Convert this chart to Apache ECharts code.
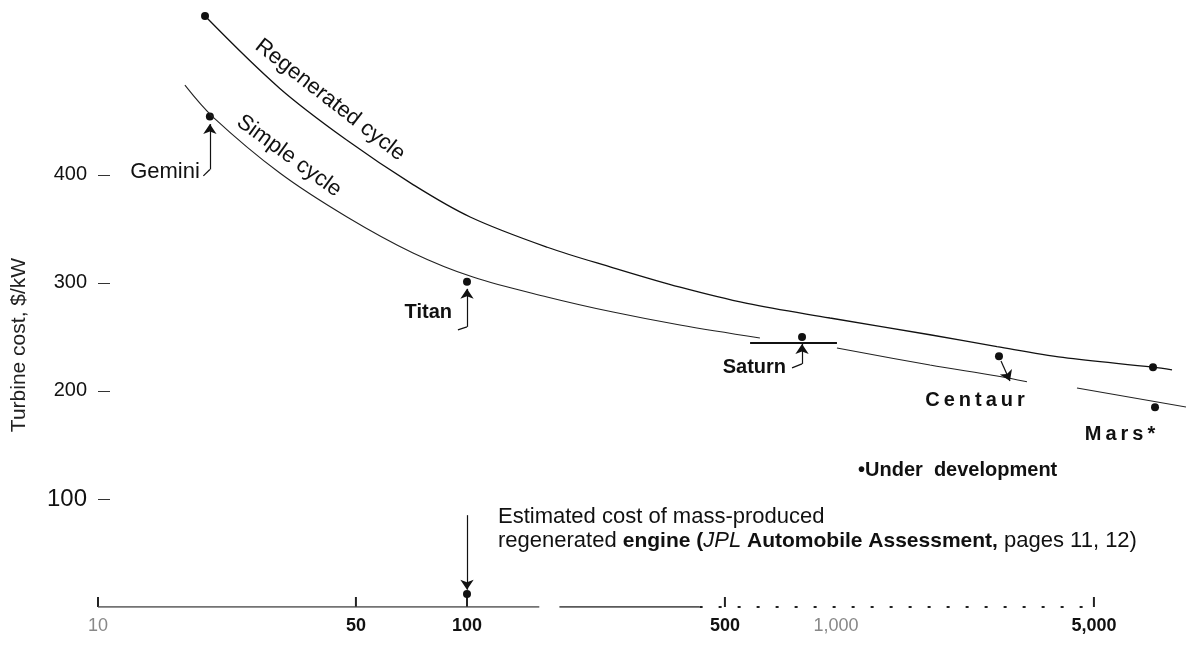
<!DOCTYPE html>
<html><head><meta charset="utf-8">
<script src="https://cdn.jsdelivr.net/npm/echarts@6/dist/echarts.min.js"></script>
<style>html,body{margin:0;padding:0;background:#fff}#c{width:1186px;height:645px}</style>
</head><body><div id="c"></div>
<script>
// ---- data ----
const regenKW   = [19.5, 31.1, 47.3, 71.4, 102, 165, 249, 378, 574, 963, 1797, 2731, 4123, 7230, 8140];
const regenCost = [547, 480, 432, 391, 361, 333, 314, 296, 281, 267.5, 252, 241, 231, 222, 219.5];

const simpleKW_a   = [17.2, 20.5, 31.1, 47.3, 71.4, 103.8, 164.8, 248.7, 377.7, 622];
const simpleCost_a = [483, 453.5, 401.7, 361, 327.7, 305.4, 287, 273, 261, 249];
const simpleKW_b   = [1006, 1797, 2731, 3293];
const simpleCost_b = [239.7, 224, 213.8, 208.5];
const simpleKW_c   = [4499, 8882];
const simpleCost_c = [202.7, 185.1];

const vehicleNames = ['Gemini', 'Titan', 'Saturn', 'Centaur', 'Mars*'];
const vehicleKW    = [20.1, 100, 809, 2765, 7320];
const vehicleCost  = [454, 301, 250, 232, 185];

const regenEndKW   = [19.5, 7230];
const regenEndCost = [547, 222];

const massKW   = [100];
const massCost = [12];

const saturnRangeKW   = [585, 1006];
const saturnRangeCost = [244.3, 244.3];

const xTickValues = [10, 50, 100, 500, 1000, 5000];
const xTickLabels = ['10', '50', '100', '500', '1,000', '5,000'];
const xTickMarks  = [10, 50, 100, 500, 5000];
const yTickValues = [100, 200, 300, 400];

// ---- chart ----
const FONT = '"Liberation Sans", Arial, Helvetica, sans-serif';
const zip = (xs, ys) => xs.map((x, i) => [x, ys[i]]);
const spaced = s => s.split('').join('\u2009');

const lightTicks = { '10': true, '1,000': true };
const labelStyle = {
  'Gemini':  { align: 'right',  offset: [-10, 55], fontWeight: 'normal', fontSize: 22, text: 'Gemini' },
  'Titan':   { align: 'right',  offset: [-15, 31], fontWeight: 'bold',   fontSize: 20, text: 'Titan' },
  'Saturn':  { align: 'right',  offset: [-16, 31], fontWeight: 'bold',   fontSize: 20, text: 'Saturn' },
  'Centaur': { align: 'center', offset: [-24, 44], fontWeight: 'bold',   fontSize: 20, text: spaced('Centaur') },
  'Mars*':   { align: 'center', offset: [-35, 27], fontWeight: 'bold',   fontSize: 20, text: spaced('Mars*') }
};

// leader / arrow annotations, anchored in data coordinates
const g = vehicleKW, c = vehicleCost;
const P = (coord, symbol) => ({ coord: coord, symbol: symbol, symbolSize: 10 });
const leaders = [
  // Gemini
  [P([19.3, c[0] - 55], 'none'), P([g[0], c[0] - 49], 'none')],
  [P([g[0], c[0] - 49], 'none'), P([g[0], c[0] - 7], 'arrow')],
  // Titan
  [P([94.5, c[1] - 44.5], 'none'), P([g[1], c[1] - 41.7], 'none')],
  [P([g[1], c[1] - 41.7], 'none'), P([g[1], c[1] - 6.5], 'arrow')],
  // Saturn
  [P([760, c[2] - 28.7], 'none'), P([g[2], c[2] - 25], 'none')],
  [P([g[2], c[2] - 25], 'none'), P([g[2], c[2] - 6.5], 'arrow')],
  // Centaur
  [P([2800, c[3] - 4.2], 'none'), P([2961, c[3] - 22.7], 'arrow')],
  // mass-produced engine
  [P([massKW[0], 85], 'none'), P([massKW[0], massCost[0] + 4], 'arrow')]
];

const dotStyle = { color: '#111', opacity: 1 };

const option = {
  animation: false,
  backgroundColor: '#fff',
  grid: { left: 98, right: 0, top: 2, bottom: 38, containLabel: false },
  xAxis: {
    type: 'log', logBase: 10, min: 10, max: 8882,
    axisLine: { show: false }, axisTick: { show: false },
    axisLabel: { show: false }, splitLine: { show: false }
  },
  yAxis: {
    type: 'value', min: 0, max: 560, interval: 100,
    axisLine: { show: false }, splitLine: { show: false },
    axisTick: { show: true, inside: true, length: 12, customValues: yTickValues,
      lineStyle: { color: '#333', width: 1 } },
    axisLabel: {
      customValues: yTickValues, margin: 11, fontSize: 20, color: '#111', fontFamily: FONT,
      formatter: v => (v === 100 ? '{b|100}' : String(v)),
      rich: { b: { fontSize: 24, fontFamily: FONT, color: '#111' } }
    }
  },
  graphic: [
    { type: 'text', x: 19, y: 345, rotation: Math.PI / 2,
      style: { text: 'Turbine cost, $/kW', font: '21px ' + FONT, fill: '#222',
        align: 'center', verticalAlign: 'middle' } },
    { type: 'text', x: 330, y: 100, rotation: -38 * Math.PI / 180,
      style: { text: 'Regenerated cycle', font: '22px ' + FONT, fill: '#111',
        align: 'center', verticalAlign: 'middle' } },
    { type: 'text', x: 289, y: 156, rotation: -36 * Math.PI / 180,
      style: { text: 'Simple cycle', font: '22px ' + FONT, fill: '#111',
        align: 'center', verticalAlign: 'middle' } },
    { type: 'text', x: 858, y: 470,
      style: { text: '\u2022Under  development', font: 'bold 20px ' + FONT, fill: '#111',
        align: 'left', verticalAlign: 'middle' } },
    { type: 'text', x: 498, y: 517,
      style: { text: 'Estimated cost of mass-produced', font: '22px ' + FONT, fill: '#111',
        align: 'left', verticalAlign: 'middle' } },
    { type: 'text', x: 498, y: 541,
      style: {
        text: 'regenerated {b|engine (}{i|JPL}{b| Automobile Assessment,} pages 11, 12)',
        font: '22px ' + FONT, fill: '#111', align: 'left', verticalAlign: 'middle',
        rich: {
          b: { fontWeight: 'bold', fontSize: 21, fontFamily: FONT, fill: '#111' },
          i: { fontStyle: 'italic', fontSize: 22, fontFamily: FONT, fill: '#111' }
        }
      } }
  ],
  series: [
    { name: 'Regenerated cycle', type: 'line', smooth: 0.35, symbol: 'none',
      data: zip(regenKW, regenCost), lineStyle: { color: '#111', width: 1.3 } },
    { name: 'Simple cycle', type: 'line', smooth: 0.35, symbol: 'none',
      data: zip(simpleKW_a, simpleCost_a), lineStyle: { color: '#222', width: 1.1 } },
    { name: 'Simple cycle b', type: 'line', smooth: 0.35, symbol: 'none',
      data: zip(simpleKW_b, simpleCost_b), lineStyle: { color: '#222', width: 1.1 } },
    { name: 'Simple cycle c', type: 'line', smooth: false, symbol: 'none',
      data: zip(simpleKW_c, simpleCost_c), lineStyle: { color: '#222', width: 1.1 } },
    { name: 'Saturn range', type: 'line', symbol: 'none',
      data: zip(saturnRangeKW, saturnRangeCost), lineStyle: { color: '#111', width: 2 } },
    // baseline pieces
    { name: 'base1', type: 'line', symbol: 'none', data: [[10, 0], [157, 0]],
      lineStyle: { color: '#444', width: 1.5 } },
    { name: 'base2', type: 'line', symbol: 'none', data: [[178, 0], [427, 0]],
      lineStyle: { color: '#222', width: 1.5 } },
    { name: 'base3', type: 'line', symbol: 'none', data: [[427, 0], [5000, 0]],
      lineStyle: { color: '#222', width: 2, type: [3, 16] } },
    // tick marks
    { name: 'ticks', type: 'scatter', symbol: 'rect', symbolSize: [2, 10], symbolOffset: [0, -5],
      itemStyle: { color: '#222', opacity: 1 }, data: xTickMarks.map(v => [v, 0]), silent: true },
    // tick labels
    { name: 'tickLabels', type: 'scatter', symbolSize: 0, silent: true,
      itemStyle: { opacity: 1 },
      data: xTickValues.map((v, i) => ({
        value: [v, 0],
        label: {
          show: true, position: 'inside', offset: [0, 19], formatter: xTickLabels[i],
          fontFamily: FONT, fontSize: 18,
          fontWeight: lightTicks[xTickLabels[i]] ? 'normal' : 'bold',
          color: lightTicks[xTickLabels[i]] ? '#888' : '#111'
        }
      })) },
    // regenerated-curve end points and mass-produced point
    { name: 'regenEnds', type: 'scatter', symbolSize: 8, itemStyle: dotStyle,
      data: zip(regenEndKW, regenEndCost) },
    { name: 'mass', type: 'scatter', symbolSize: 8, itemStyle: dotStyle,
      data: zip(massKW, massCost) },
    // vehicles
    { name: 'vehicles', type: 'scatter', symbolSize: 8, itemStyle: dotStyle,
      data: vehicleNames.map((n, i) => {
        const s = labelStyle[n];
        return {
          name: n, value: [vehicleKW[i], vehicleCost[i]],
          label: { show: true, position: 'inside', align: s.align, verticalAlign: 'middle',
            offset: s.offset, formatter: s.text, fontFamily: FONT, fontSize: s.fontSize,
            fontWeight: s.fontWeight, color: '#111', opacity: 1 }
        };
      }) },
    // leaders
    { name: 'leaders', type: 'line', data: [], silent: true, symbol: 'none',
      itemStyle: { color: '#111' },
      markLine: { silent: true, animation: false, symbol: ['none', 'arrow'], symbolSize: 10,
        label: { show: false },
        itemStyle: { color: '#111' },
        lineStyle: { color: '#111', width: 1.2, type: 'solid' },
        emphasis: { disabled: true },
        data: leaders } }
  ]
};
const chart = echarts.init(document.getElementById('c'));
chart.setOption(option);
</script></body></html>
